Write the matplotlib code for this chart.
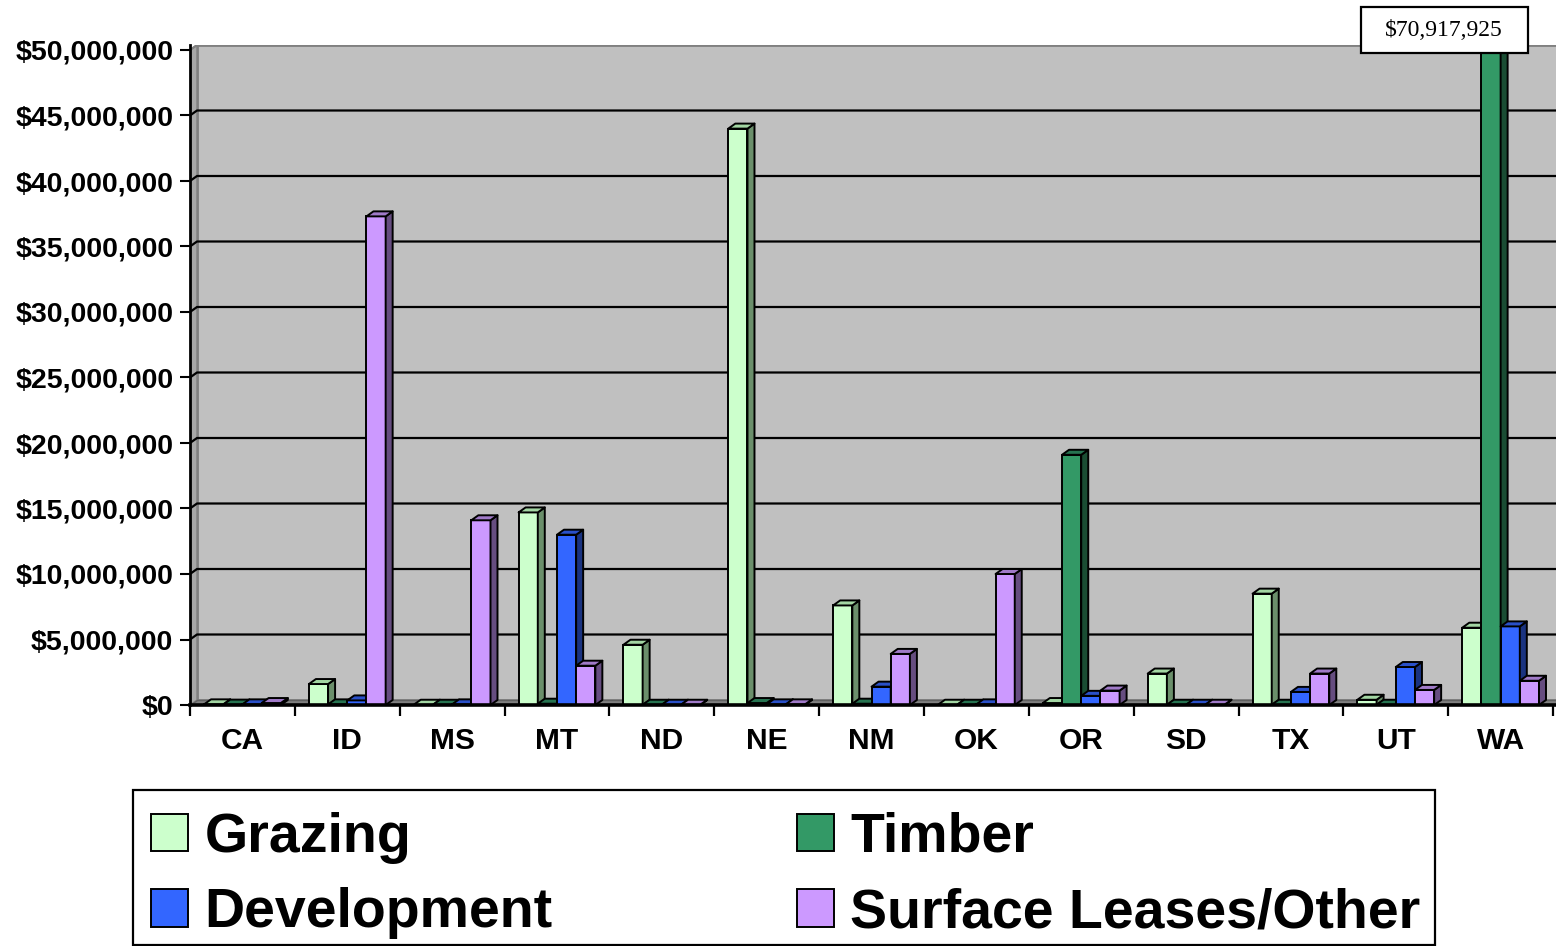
import matplotlib
matplotlib.use("Agg")
import matplotlib.pyplot as plt
from matplotlib.collections import PolyCollection
from matplotlib.patches import Patch, Rectangle, Polygon
from matplotlib.ticker import FuncFormatter, MultipleLocator
import numpy as np

# ---------------- data ----------------
states = ["CA", "ID", "MS", "MT", "ND", "NE", "NM", "OK", "OR", "SD", "TX", "UT", "WA"]
series_names = ["Grazing", "Timber", "Development", "Surface Leases/Other"]
grazing     = [50e3, 1.6e6, 20e3, 14.7e6, 4.6e6, 44.0e6, 7.6e6, 20e3, 150e3, 2.4e6, 8.5e6, 0.4e6, 5.9e6]
timber      = [30e3, 50e3, 20e3, 100e3, 20e3, 150e3, 100e3, 20e3, 19.1e6, 20e3, 20e3, 20e3, 70917925]
development = [50e3, 0.35e6, 50e3, 13.0e6, 20e3, 50e3, 1.4e6, 50e3, 0.7e6, 20e3, 1.0e6, 2.9e6, 6.0e6]
surface     = [150e3, 37.3e6, 14.1e6, 3.0e6, 20e3, 50e3, 3.9e6, 10.0e6, 1.1e6, 20e3, 2.4e6, 1.15e6, 1.85e6]
y_ticks = np.arange(0, 50e6 + 1, 5e6)

front_colors = ["#CCFFCC", "#339966", "#3366FF", "#CC99FF"]
side_colors  = ["#6B8F6B", "#1A4D33", "#1A3380", "#664D80"]
top_colors   = ["#A3D6A3", "#267350", "#2A50C8", "#A07AC8"]

# ---------------- figure / axes geometry (pixels) ----------------
W, H = 1556, 946
fig = plt.figure(figsize=(W / 100, H / 100), dpi=100)
plt.rcParams['font.family'] = ['Liberation Sans', 'DejaVu Sans']

ax_l, ax_r, ax_t, ax_b = 190, 1556, 45, 705
ax = fig.add_axes([ax_l / W, 1 - ax_b / H, (ax_r - ax_l) / W, (ax_b - ax_t) / H])

px_per_cat = 104.85
px_per_dollar = 13.1e-6
xmin = -0.5
xmax = xmin + (ax_r - ax_l) / px_per_cat
ymax = (ax_b - ax_t) / px_per_dollar
ax.set_xlim(xmin, xmax)
ax.set_ylim(0, ymax)

dxu = 7 / px_per_cat          # depth offset in x data units
dyu = 5 / px_per_dollar       # depth offset in y data units

# ---------------- walls / floor ----------------
wall = Polygon([(xmin + dxu, dyu), (xmax + 1, dyu), (xmax + 1, ymax), (xmin + dxu, ymax)],
               closed=True, facecolor="#C0C0C0", edgecolor="#808080", lw=2, zorder=0.5)
ax.add_patch(wall)
side_wall = Polygon([(xmin, 0), (xmin + dxu, dyu), (xmin + dxu, ymax), (xmin, ymax - dyu)],
                    closed=True, facecolor="#A8A8A8", edgecolor="#808080", lw=1, zorder=0.6)
ax.add_patch(side_wall)
floor = Polygon([(xmin, 0), (xmax + 1, 0), (xmax + 1, dyu), (xmin + dxu, dyu)],
                closed=True, facecolor="#808080", edgecolor="#606060", lw=1, zorder=0.7)
ax.add_patch(floor)

for t in y_ticks[1:]:
    col = "black" if t < y_ticks[-1] else "#808080"
    ax.plot([xmin, xmin + dxu, xmax + 1], [t, t + dyu, t + dyu], color=col, lw=1.6, zorder=1)

# ---------------- 3D-look bars ----------------
data = [grazing, timber, development, surface]
w = 0.183
cats = np.arange(len(states))
for i, vals in enumerate(data):
    xs = cats + (i - 1.5) * w
    ax.bar(xs, vals, width=w, color=front_colors[i], edgecolor="black", linewidth=1.4, zorder=3 + i)
    sides, tops = [], []
    for xc, v in zip(xs, vals):
        xl, xr = xc - w / 2, xc + w / 2
        sides.append([(xr, 0), (xr + dxu, dyu), (xr + dxu, v + dyu), (xr, v)])
        tops.append([(xl, v), (xr, v), (xr + dxu, v + dyu), (xl + dxu, v + dyu)])
    ax.add_collection(PolyCollection(sides, facecolors=side_colors[i], edgecolors="black",
                                     linewidths=1.4, zorder=3 + i))
    ax.add_collection(PolyCollection(tops, facecolors=top_colors[i], edgecolors="black",
                                     linewidths=1.4, zorder=3 + i))

# ---------------- axes styling ----------------
for s in ["top", "right"]:
    ax.spines[s].set_visible(False)
ax.spines["left"].set_linewidth(2)
ax.spines["bottom"].set_linewidth(2.6)
ax.spines["left"].set_zorder(10)
ax.spines["bottom"].set_zorder(10)

ax.yaxis.set_major_locator(MultipleLocator(5e6))
ax.yaxis.set_major_formatter(FuncFormatter(lambda v, p: f"${v:,.0f}"))
ax.tick_params(axis="y", length=7, width=1.5, pad=5, labelsize=20.5, direction="out")
for lab in ax.get_yticklabels():
    lab.set_fontweight("bold")

ax.set_xticks(cats)
ax.set_xticklabels(states, fontsize=21.5, fontweight="bold")
ax.set_xticks(np.arange(-0.5, len(states), 1.0), minor=True)
ax.tick_params(axis="x", which="major", length=0, pad=16)
ax.tick_params(axis="x", which="minor", length=8, width=1.6, direction="out")

# ---------------- legend ----------------
handles = [Patch(facecolor=front_colors[k], edgecolor="black", linewidth=1.4) for k in range(4)]
order = [0, 2, 1, 3]
leg = fig.legend([handles[k] for k in order], [series_names[k] for k in order],
                 ncol=2, loc="upper left", bbox_to_anchor=(151 / W, 1 - 812 / H),
                 bbox_transform=fig.transFigure, borderaxespad=0, borderpad=0,
                 prop={"family": "Liberation Sans", "weight": "bold", "size": 40},
                 handlelength=0.66, handleheight=0.66, handletextpad=0.3,
                 columnspacing=4.4, labelspacing=0.42, frameon=False)
legend_frame = Rectangle((133 / W, 1 - 945 / H), (1435 - 133) / W, (945 - 790) / H,
                         transform=fig.transFigure, facecolor="none", edgecolor="black", lw=1.6)
fig.add_artist(legend_frame)

# ---------------- value callout for clipped bar ----------------
box = Rectangle((1361 / W, 1 - 53 / H), 167 / W, 46 / H, transform=fig.transFigure,
                facecolor="white", edgecolor="black", lw=1.6, zorder=20)
fig.add_artist(box)
fig.text(1444 / W, 1 - 31 / H, f"${timber[-1]:,}", ha="center", va="center",
         fontsize=17, family="Liberation Serif", zorder=21)

fig.savefig("out.png", dpi=100)
